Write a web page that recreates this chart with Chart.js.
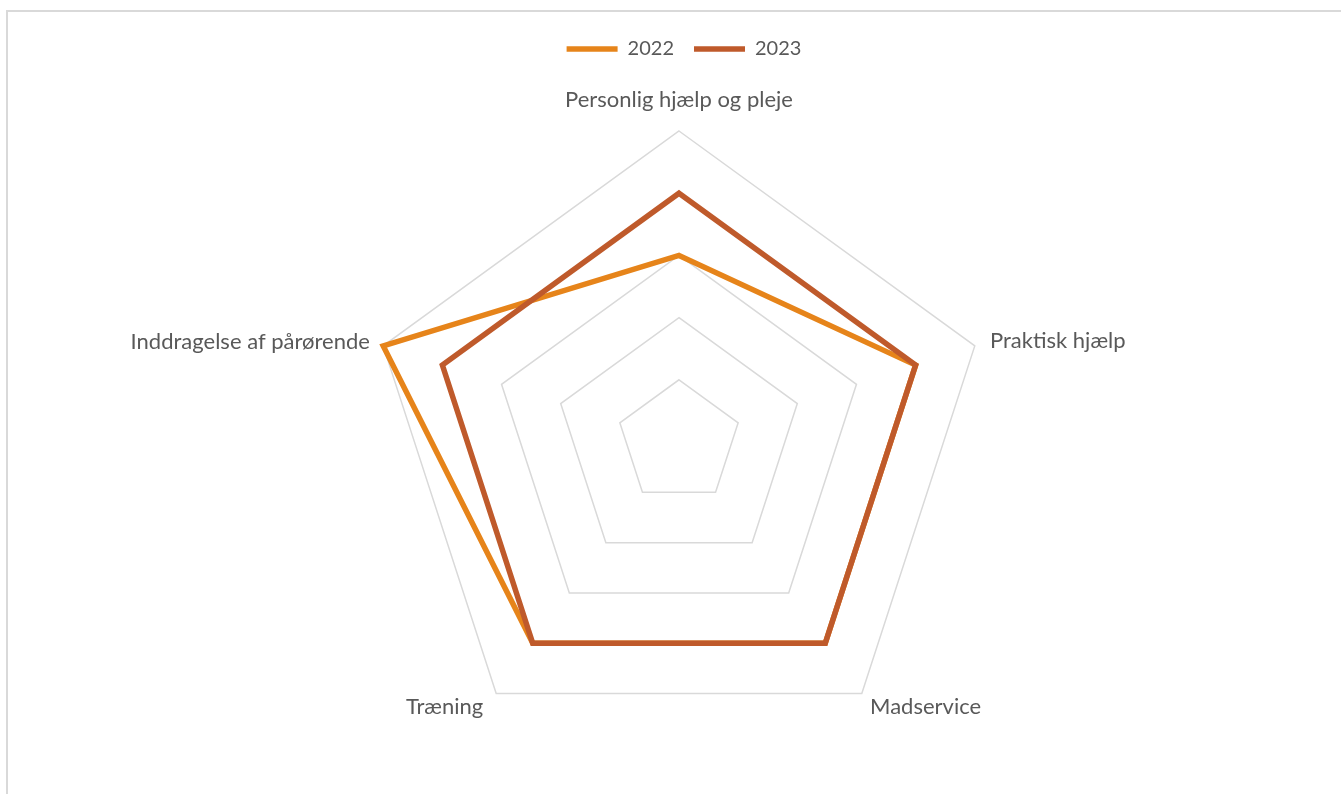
<!DOCTYPE html>
<html><head><meta charset="utf-8">
<script src="https://cdn.jsdelivr.net/npm/chart.js@4.4.1/dist/chart.umd.min.js"></script>
<style>
html,body{margin:0;padding:0;background:#fff;overflow:hidden;width:1341px;height:794px;}
#frame{position:absolute;left:6px;top:10px;width:1400px;height:900px;border-top:2px solid #d9d9d9;border-left:2px solid #d9d9d9;}
#wrap{position:absolute;left:0;top:0;width:1341px;height:794px;}
</style></head><body>
<div id="frame"></div>
<div id="wrap"><canvas id="c" width="1341" height="794"></canvas></div>
<script>
const categories = ["Personlig hjælp og pleje", "Praktisk hjælp", "Madservice", "Træning", "Inddragelse af pårørende"];
const series2022 = [3, 4, 4, 4, 5];
const series2023 = [4, 4, 4, 4, 4];
const seriesNames = ["2022", "2023"];
const scaleMin = 0, scaleMax = 5, scaleStep = 1;

const CX = 679, CY = 442, R = 311;
const labelPad = [18, 16, 14, 22, 14];
const labelShift = [0, 0.5, -0.42, -0.68, 0.5]; // in label heights
const FONT = "Lato, 'Noto Sans', sans-serif";
const TXT = '#595959';

new Chart(document.getElementById('c'), {
  type: 'radar',
  data: {
    labels: categories,
    datasets: [
      { label: seriesNames[0], data: series2022, borderColor: '#E6841A', backgroundColor: '#E6841A',
        borderWidth: 5.5, pointRadius: 0, pointHoverRadius: 0, fill: false, order: 1, borderCapStyle: 'round' },
      { label: seriesNames[1], data: series2023, borderColor: '#BF5A2B', backgroundColor: '#BF5A2B',
        borderWidth: 5.5, pointRadius: 0, pointHoverRadius: 0, fill: false, order: 0, borderCapStyle: 'round' }
    ]
  },
  options: {
    responsive: false,
    animation: false,
    layout: { padding: { top: 19, left: 27 } },
    plugins: {
      tooltip: { enabled: false },
      legend: {
        position: 'top',
        labels: {
          usePointStyle: true, pointStyle: 'line', pointStyleWidth: 51,
          padding: 20, color: TXT, font: { family: FONT, size: 20 },
          sort: (a, b) => a.datasetIndex - b.datasetIndex
        }
      }
    },
    scales: {
      r: {
        min: scaleMin, max: scaleMax,
        ticks: { display: false, stepSize: scaleStep },
        angleLines: { display: false },
        grid: { color: '#d9d9d9', lineWidth: 1.5 },
        pointLabels: {
          color: TXT, font: { family: FONT, size: 22 },
          padding: (ctx) => labelPad[ctx.index]
        },
        beforeFit(scale) {
          scale.setCenterPoint = function () { this.xCenter = CX; this.yCenter = CY; this.drawingArea = R; };
        },
        afterFit(scale) {
          (scale._pointLabelItems || []).forEach((it, i) => {
            const d = (it.bottom - it.top) * labelShift[i];
            it.y += d; it.top += d; it.bottom += d;
          });
        }
      }
    }
  }
});
</script>
</body></html>
